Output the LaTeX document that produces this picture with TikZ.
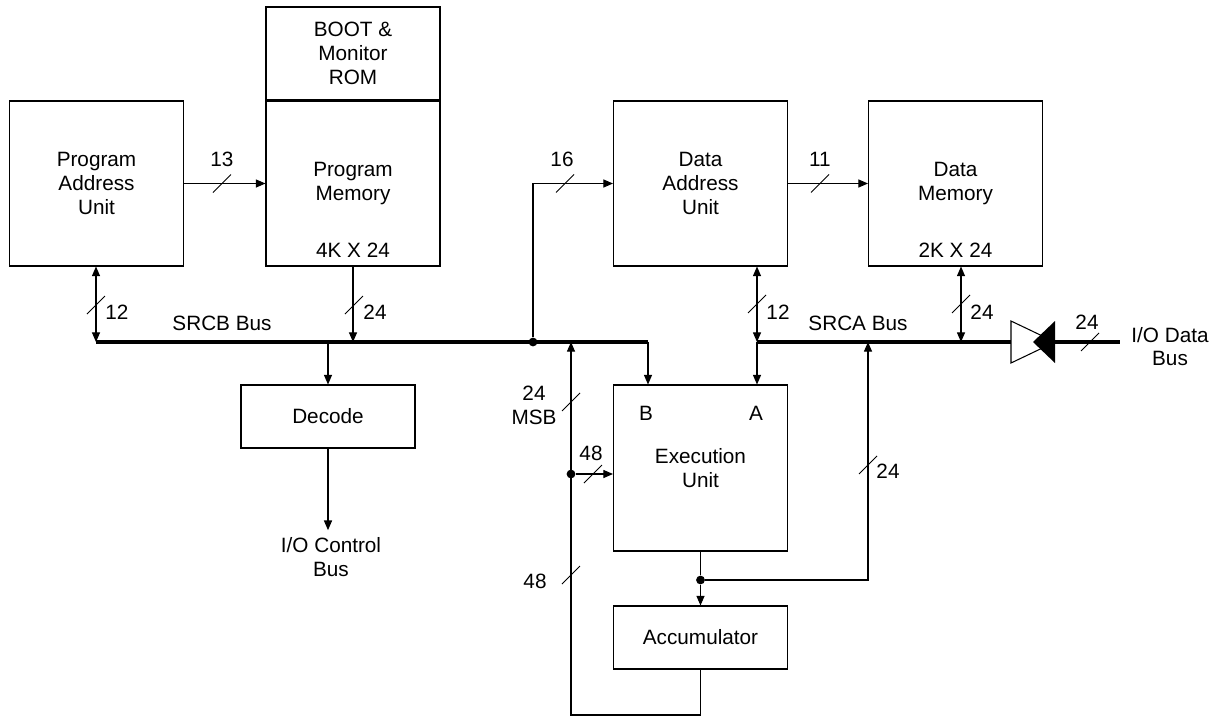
\documentclass[tikz,border=0pt]{standalone}
\usepackage{fontspec}
\setmainfont{Liberation Sans}
\usetikzlibrary{arrows.meta}
\tikzset{
  unit/.style={rectangle,draw,line width=0.6pt,minimum width=3.48cm,minimum height=3.3cm,inner sep=0pt,align=center},
  smallunit/.style={unit,minimum height=1.26cm},
  txt/.style={inner sep=0pt,align=center},
  wire/.style={line width=0.6pt},
  bus/.style={line width=2.4pt},
  arr/.style={-{Triangle[length=5.5pt,width=4.6pt]}},
  biarr/.style={{Triangle[length=5.5pt,width=4.6pt]}-{Triangle[length=5.5pt,width=4.6pt]}},
  jdot/.style={circle,fill,inner sep=0pt,minimum size=5pt},
  tick/.pic={\draw[line width=0.5pt] (-9,9) -- (9,-9);}
}
\begin{document}
\begin{tikzpicture}[x=0.02cm,y=-0.02cm,font=\fontsize{11.8}{13.5}\selectfont]
          \useasboundingbox (0,0) rectangle (1217,717);
          \node[unit] (pau) at(96.5,183.5) {Program\\Address\\Unit};
          \node[unit,minimum height=1.86cm] (rom) at(353,53.5) {BOOT \&\\Monitor\\ROM};
          \node[unit] (pmem) at(353,183.5) {Program\\Memory};
          \node[txt] (pmsize) at(353,250) {4K X 24};
          \node[unit] (dau) at(700.5,183.5) {Data\\Address\\Unit};
          \node[unit] (dmem) at(955.5,183.5) {Data\\Memory};
          \node[txt] (dmsize) at(955.5,250) {2K X 24};
          \node[smallunit] (dec) at(328,416.5) {Decode};
          \node[txt,inner sep=4pt] (iocb) at(331,557) {I/O Control\\Bus};
          \node[unit,minimum height=3.32cm] (eu) at(700.5,468) {Execution\\Unit};
          \node[txt] (bport) at(646,413) {B};
          \node[txt] (aport) at(756,413) {A};
          \node[smallunit] (acc) at(700.5,637.5) {Accumulator};
          \node[txt] (iodb) at(1170,346.5) {I/O Data\\Bus};

          \coordinate (srcbL) at(96,342);
          \coordinate (srcbR) at(648,342);
          \coordinate (msbtap) at(571,342);
          \coordinate (srcaL) at(757,342);
          \coordinate (srcatap) at(868,342);
          \coordinate (dmtap) at(961,342);
          \coordinate (bufL) at(1011,342);
          \coordinate (bufR) at(1055,342);
          \coordinate (ioend) at(1120,342);
          \coordinate (lpc) at(571,715);
          \node[jdot] (j16) at(533,342) {};
          \node[jdot] (j48) at(571,474) {};
          \node[jdot] (jacc) at(700.5,580) {};

          \draw[bus] (srcbL) -- (srcbR);
          \draw[bus] (srcaL) -- (bufL);
          \draw[bus] (bufR) -- (ioend);
          \draw[wire,fill=white] (1011,321) -- (bufR) -- (1011,363) -- cycle;
          \fill (1055,321) -- (1033,342) -- (1055,363) -- cycle;

          \draw[wire,arr] (pau) -- (pmem);
          \draw[wire,arr] (dau) -- (dmem);
          \draw[wire,arr] (j16) |- (dau);
          \draw[wire,biarr] (pau.south -| srcbL) -- (srcbL);
          \draw[wire,arr] (pmem.south) -- (pmem.south |- srcbL);
          \draw[wire,arr] (dec.north |- srcbL) -- (dec.north);
          \draw[wire,arr] (dec.south) -- (dec.south |- iocb.north);
          \draw[wire,arr] (srcbR) -- (srcbR |- eu.north);
          \draw[wire,arr] (srcaL) -- (srcaL |- eu.north);
          \draw[wire,biarr] (srcaL |- dau.south) -- (srcaL);
          \draw[wire,biarr] (dmtap |- dmem.south) -- (dmtap);
          \draw[wire] (eu) -- (jacc);
          \draw[wire,arr] (jacc) -- (acc);
          \draw[wire,arr] (jacc) -| (srcatap);
          \draw[wire,arr] (acc.south) |- (lpc) -- (msbtap);
          \draw[wire,arr] (j48) -- (j48 -| eu.west);

          \pic at(222,183.5) {tick};
          \pic at(820,183.5) {tick};
          \pic at(565,183.5) {tick};
          \pic at(96,305) {tick};
          \pic at(354,305) {tick};
          \pic at(757,304) {tick};
          \pic at(961,304) {tick};
          \pic at(1090,342) {tick};
          \pic at(868,465) {tick};
          \pic at(571,402) {tick};
          \pic at(593,474) {tick};
          \pic at(571,575) {tick};

          \node[txt] (l13) at(222,159) {13};
          \node[txt] (l16) at(562,159) {16};
          \node[txt] (l11) at(820,159) {11};
          \node[txt] (l12b) at(117,312) {12};
          \node[txt] (l24b) at(375,312) {24};
          \node[txt] (srcb) at(222,323) {SRCB Bus};
          \node[txt] (l12a) at(778,312) {12};
          \node[txt] (srca) at(858,323) {SRCA Bus};
          \node[txt] (l24a) at(982,312) {24};
          \node[txt] (l24io) at(1087,322) {24};
          \node[txt] (l24acc) at(888,471) {24};
          \node[txt] (lmsb) at(534,405) {24\\MSB};
          \node[txt] (l48a) at(591,453) {48};
          \node[txt] (l48b) at(535,581) {48};
        \end{tikzpicture}
\end{document}
